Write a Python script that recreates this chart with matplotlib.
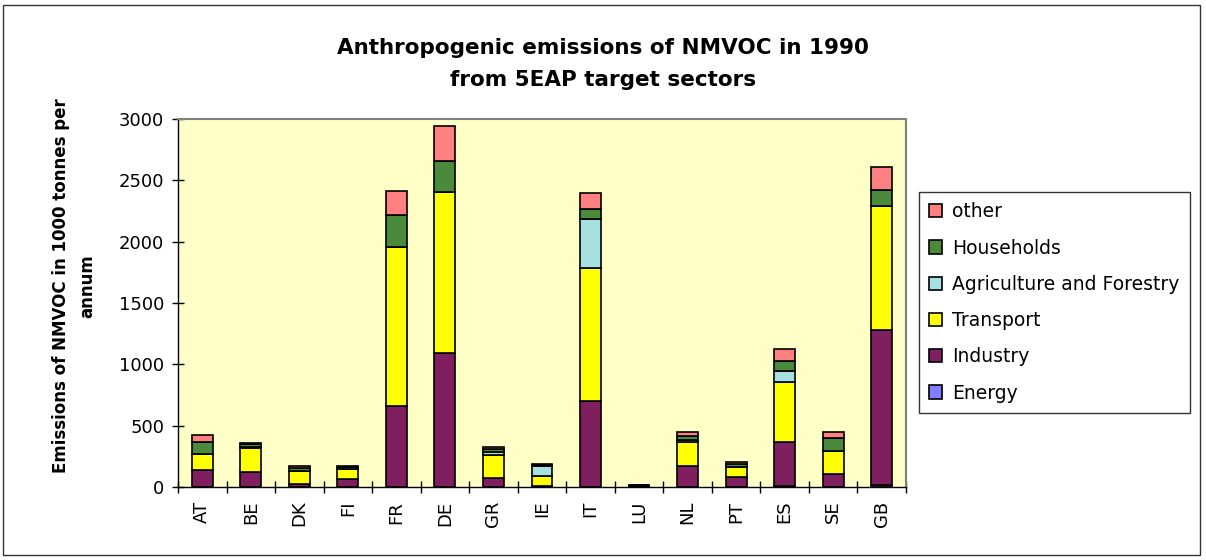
import matplotlib.pyplot as plt
import numpy as np
from matplotlib.patches import Rectangle

plt.rcParams['font.family'] = ['DejaVu Sans']

countries = ['AT', 'BE', 'DK', 'FI', 'FR', 'DE', 'GR', 'IE', 'IT', 'LU', 'NL', 'PT', 'ES', 'SE', 'GB']
energy = [0, 0, 0, 0, 0, 0, 0, 0, 0, 0, 0, 0, 12, 0, 15]
industry = [140, 125, 24, 63, 657, 1092, 76, 10, 701, 5, 168, 78, 355, 103, 1262]
transport = [126, 195, 106, 84, 1296, 1315, 185, 82, 1081, 7, 201, 85, 486, 188, 1014]
agriculture = [0, 5, 0, 0, 0, 0, 27, 76, 402, 0, 12, 0, 90, 0, 0]
households = [103, 22, 25, 14, 266, 252, 25, 12, 79, 2, 38, 25, 84, 108, 128]
other = [55, 14, 16, 10, 190, 286, 16, 9, 131, 1, 30, 16, 95, 49, 190]

series = [
    ('Energy', energy, '#8080FF'),
    ('Industry', industry, '#801F5F'),
    ('Transport', transport, '#FFFF00'),
    ('Agriculture and Forestry', agriculture, '#A6E0E0'),
    ('Households', households, '#4A8A3A'),
    ('other', other, '#FF8080'),
]

fig = plt.figure(figsize=(12.06, 5.6), dpi=100)
ax = fig.add_axes([0.1476, 0.1304, 0.6036, 0.6571])
ax.set_facecolor('#FFFFC8')

x = np.arange(len(countries))
bottom = np.zeros(len(countries))
for name, vals, color in series:
    vals = np.array(vals, dtype=float)
    ax.bar(x, vals, 0.43, bottom=bottom, color=color, edgecolor='black',
           linewidth=1.2, label=name)
    bottom += vals

ax.set_xlim(-0.5, len(countries) - 0.5)
ax.set_ylim(0, 3000)
ax.set_yticks(np.arange(0, 3001, 500))
ax.set_xticks(x)
ax.set_xticklabels(countries, rotation=90, fontsize=13)
ax.set_xticks(np.arange(-0.5, len(countries), 1), minor=True)
ax.tick_params(axis='x', which='major', length=0, pad=10)
ax.tick_params(axis='x', which='minor', length=8, direction='inout', width=1)
ax.tick_params(axis='y', length=8, direction='inout', width=1, labelsize=13, pad=6)

for s in ['top', 'right']:
    ax.spines[s].set_color('#808080')
    ax.spines[s].set_linewidth(1.5)
for s in ['left', 'bottom']:
    ax.spines[s].set_color('black')
    ax.spines[s].set_linewidth(1)

# y label, two lines, placed by hand like the original
fig.text(74 / 1206, 1 - 286 / 560, 'Emissions of NMVOC in 1000 tonnes per\nannum',
         rotation=90, ha='center', va='center', fontsize=12,
         fontweight='bold', linespacing=1.55, multialignment='center')

fig.text(0.5, 1 - 48 / 560, 'Anthropogenic emissions of NMVOC in 1990', ha='center',
         va='center', fontsize=15.5, fontweight='bold')
fig.text(0.5, 1 - 80 / 560, 'from 5EAP target sectors', ha='center', va='center',
         fontsize=15.5, fontweight='bold')

handles, labels = ax.get_legend_handles_labels()
leg = fig.legend(handles[::-1], labels[::-1], loc='upper left',
                 bbox_to_anchor=(919 / 1206, 1 - 192 / 560), fontsize=13.5,
                 frameon=True, fancybox=False, edgecolor='black',
                 handlelength=0.7, handleheight=0.7, handletextpad=0.5,
                 labelspacing=0.92, borderpad=0.55, borderaxespad=0)
leg.get_frame().set_linewidth(1)

fig.patches.append(Rectangle((3 / 1206, 5 / 560), 1197 / 1206, 550 / 560,
                             transform=fig.transFigure, fill=False,
                             edgecolor='#333333', linewidth=1))

fig.savefig('out.png', dpi=100)
